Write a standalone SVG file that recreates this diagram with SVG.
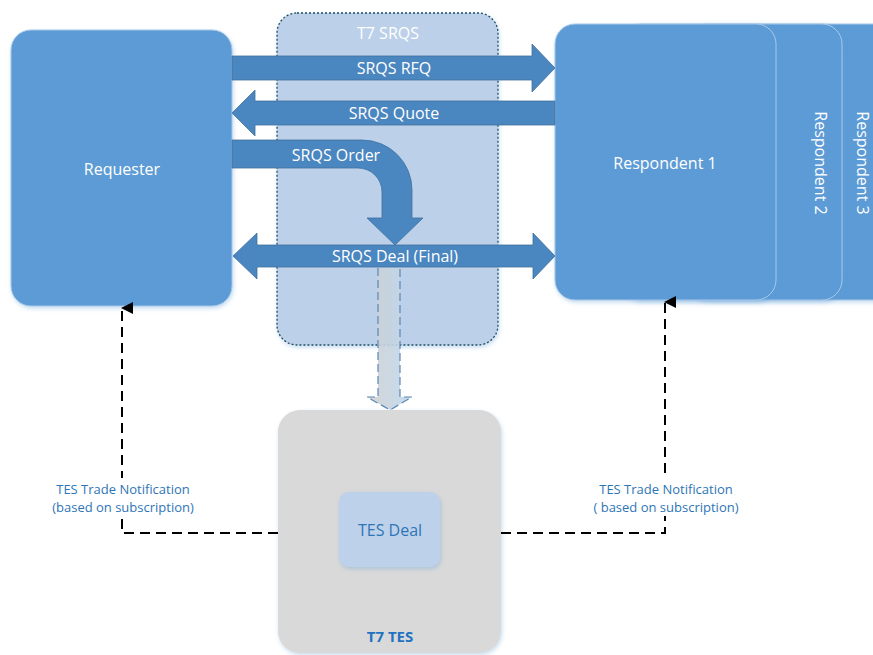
<svg xmlns="http://www.w3.org/2000/svg" width="873" height="655" viewBox="0 0 873 655">
<defs>
<style>
.node{fill:#5b9bd5;stroke:#a9c8e8;stroke-width:1}
.lbl{font-family:"Open Sans","Noto Sans",sans-serif;font-size:16px;fill:#ffffff;text-anchor:middle;dominant-baseline:central}
.arr{fill:#4a86bf;stroke:#41719c;stroke-width:0.8}
.note{font-family:"Open Sans","Noto Sans",sans-serif;font-size:13px;fill:#2e75b6;text-anchor:middle}
.dash{fill:none;stroke:#000;stroke-width:2;stroke-dasharray:10,6}
</style>
<filter id="sh" x="-10%" y="-10%" width="125%" height="125%">
<feDropShadow dx="1" dy="2" stdDeviation="2" flood-color="#5b9bd5" flood-opacity="0.35"/>
</filter>
<linearGradient id="g" x1="0" y1="0" x2="1" y2="0">
<stop offset="0" stop-color="#d0d0d0"/>
<stop offset="1" stop-color="#bdd7ee"/>
</linearGradient>
<marker id="ah" viewBox="0 0 12 12" refX="6" refY="1" markerWidth="12" markerHeight="12" markerUnits="userSpaceOnUse" orient="auto-start-reverse">
<path d="M0,12 L6,0 L12,12 Z" fill="#000"/>
</marker>
</defs>

<g id="respondent3">
<rect class="node" x="687" y="24" width="221" height="276" rx="20" filter="url(#sh)"/>
<text class="lbl" transform="translate(863,163) rotate(90)">Respondent 3</text>
</g>
<g id="respondent2">
<rect class="node" x="621" y="24" width="221" height="276" rx="20" filter="url(#sh)"/>
<text class="lbl" transform="translate(821,163) rotate(90)">Respondent 2</text>
</g>
<g id="respondent1">
<rect class="node" x="555" y="24" width="221" height="276" rx="20" filter="url(#sh)"/>
<text class="lbl" x="665" y="163">Respondent 1</text>
</g>

<g id="requester">
<rect class="node" x="11" y="30" width="221" height="276" rx="20" filter="url(#sh)"/>
<text class="lbl" x="122" y="169">Requester</text>
</g>

<g id="t7srqs">
<rect x="277" y="13" width="221" height="332" rx="20" fill="#bcd0e9" stroke="#1f4e5f" stroke-width="1.3" stroke-dasharray="2,2" filter="url(#sh)"/>
<text class="lbl" x="388" y="33">T7 SRQS</text>
</g>

<g id="t7tes">
<rect x="278" y="410" width="223" height="243" rx="22" fill="#d9d9d9" filter="url(#sh)"/>
<text x="390" y="642" font-family="Open Sans,Noto Sans,sans-serif" font-size="15" font-weight="bold" fill="#1f73c1" text-anchor="middle">T7 TES</text>
</g>

<g id="tesdeal">
<rect x="339" y="492" width="101" height="75" rx="10" fill="#bdd1ea" filter="url(#sh)"/>
<text x="390" y="530" font-family="Open Sans,Noto Sans,sans-serif" font-size="16" fill="#2e75b6" text-anchor="middle" dominant-baseline="central">TES Deal</text>
</g>

<g id="connectors">
<path class="arr" d="M232,56 H532 V44 L555,68 L532,92 V80 H232 Z"/>
<text class="lbl" x="394" y="68">SRQS RFQ</text>
<path class="arr" d="M555,101 H255 V90 L232,113 L255,136 V125 H555 Z"/>
<text class="lbl" x="394" y="113">SRQS Quote</text>
<path class="arr" d="M232,140 H362 A50,50 0 0 1 412,190 V218 H423 L395,245 L367,218 H382 V192 A24,24 0 0 0 358,168 H232 Z"/>
<text class="lbl" x="336" y="155">SRQS Order</text>
<path class="arr" d="M233,256 L257,233 V245 H533 V233 L555,256 L533,279 V267 H257 V279 Z"/>
<text class="lbl" x="395" y="256">SRQS Deal (Final)</text>
<path d="M378,268 H400 V397 H412 L390,410 L367,397 H378 Z" fill="url(#g)" opacity="0.9"/>
<path d="M378,268 V397 H367 L390,410 L412,397 H400 V268" fill="none" stroke="#5b87b5" stroke-width="1.2" stroke-dasharray="8,4"/>
<path class="dash" d="M278,533 H122 V308" marker-end="url(#ah)"/>
<path class="dash" d="M501,533 H665 V302" marker-end="url(#ah)"/>
<rect x="42" y="478" width="162" height="38" fill="#fff"/>
<text class="note" x="123" y="494">TES Trade Notification</text>
<text class="note" x="123" y="512">(based on subscription)</text>
<rect x="584" y="478" width="164" height="38" fill="#fff"/>
<text class="note" x="666" y="494">TES Trade Notification</text>
<text class="note" x="666" y="512">( based on subscription)</text>
</g>
</svg>
